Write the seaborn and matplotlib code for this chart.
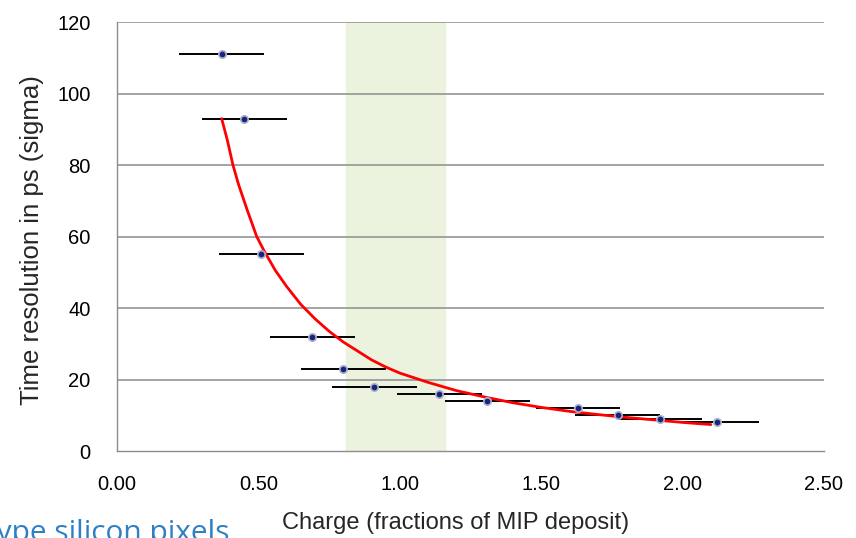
import numpy as np
import pandas as pd
import seaborn as sns
import matplotlib.pyplot as plt

# Measured points (charge in MIP fractions, time resolution in ps)
charge = [0.37, 0.45, 0.51, 0.69, 0.80, 0.91, 1.14, 1.31, 1.63, 1.77, 1.92, 2.12]
resolution = [111.0, 93.0, 55.0, 32.0, 23.0, 18.0, 16.0, 14.0, 12.0, 10.0, 9.0, 8.2]
charge_err = [0.15, 0.15, 0.15, 0.15, 0.15, 0.15, 0.15, 0.15, 0.15, 0.15, 0.15, 0.15]

# Fit curve
fit_x = [0.37, 0.38, 0.39, 0.41, 0.43, 0.46, 0.494, 0.52, 0.56, 0.60, 0.65, 0.70,
         0.75, 0.80, 0.85, 0.90, 0.95, 1.00, 1.10, 1.20, 1.30, 1.40, 1.50, 1.60,
         1.70, 1.80, 1.90, 2.00, 2.10]
fit_y = [93.0, 90.0, 87.0, 80.0, 74.5, 67.5, 60.0, 56.0, 50.5, 46.0, 41.0, 37.0,
         33.5, 30.5, 28.0, 25.5, 23.5, 21.8, 19.2, 16.9, 15.1, 13.5, 12.2, 11.1,
         10.2, 9.4, 8.7, 8.0, 7.4]

# Shaded band
band = (0.81, 1.16)

x_ticks = [0.0, 0.5, 1.0, 1.5, 2.0, 2.5]
y_ticks = [0, 20, 40, 60, 80, 100, 120]

sns.set_style("white")
plt.rcParams["font.family"] = ["Liberation Sans", "DejaVu Sans"]

df = pd.DataFrame({"charge": charge, "resolution": resolution, "err": charge_err})
fit = pd.DataFrame({"x": fit_x, "y": fit_y})

fig = plt.figure(figsize=(8.56, 5.38), dpi=100)
ax = fig.add_axes([0.1367, 0.1617, 0.8259, 0.7973])

ax.axvspan(band[0], band[1], color="#ebf3df", zorder=0)
for y in y_ticks[1:]:
    ax.axhline(y, color="#8c8c8c", lw=1.1, zorder=1)

ax.errorbar(df["charge"], df["resolution"], xerr=df["err"], fmt="none",
            ecolor="black", elinewidth=1.4, capsize=0, zorder=2)
sns.lineplot(data=fit, x="x", y="y", color="#ff0000", lw=2, ax=ax, zorder=3)
sns.scatterplot(data=df, x="charge", y="resolution", color="#1a237e", s=28,
                edgecolor="#a9b0c8", linewidth=1.2, ax=ax, zorder=4)

ax.set_xlim(0, 2.5)
ax.set_ylim(0, 120)
ax.set_xticks(x_ticks)
ax.set_xticklabels([f"{v:.2f}" for v in x_ticks])
ax.set_yticks(y_ticks)
ax.tick_params(axis="both", labelsize=14.5, colors="#8c8c8c", labelcolor="black",
               direction="out", length=8, width=1)
ax.tick_params(axis="x", pad=9)
ax.tick_params(axis="y", pad=11)

for s in ["top", "right"]:
    ax.spines[s].set_visible(False)
for s in ["left", "bottom"]:
    ax.spines[s].set_color("#8c8c8c")
    ax.spines[s].set_linewidth(1)

ax.set_xlabel("Charge (fractions of MIP deposit)", fontsize=17)
ax.set_ylabel("Time resolution in ps (sigma)", fontsize=18.5)
ax.xaxis.set_label_coords(0.4795, -0.168)
ax.yaxis.set_label_coords(-0.120, 0.492)
ax.xaxis.label.set_va("center")
ax.yaxis.label.set_va("center")

# caption fragment from the slide, cut by the image edge
fig.text(-0.016, -0.005, "type silicon pixels", fontsize=21.5, color="#2e7fc4",
         family=["Open Sans", "DejaVu Sans"], ha="left", va="baseline")

fig.savefig("out.png", dpi=100)
